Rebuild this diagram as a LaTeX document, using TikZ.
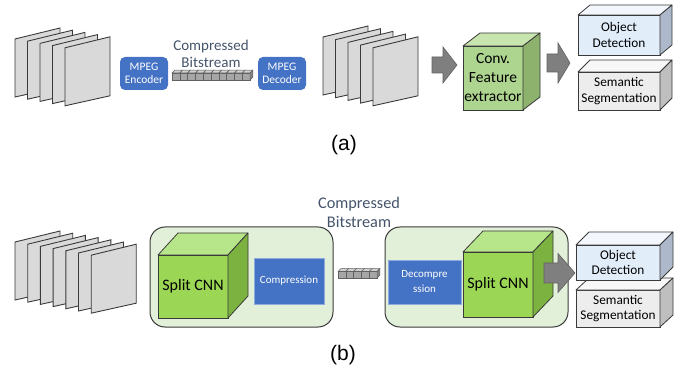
\documentclass[tikz,border=0pt]{standalone}
\usepackage{fontspec}
\setmainfont{Carlito}
\newfontfamily\arialf{Liberation Sans}
\usetikzlibrary{calc}
\definecolor{mblue}{HTML}{4472C4}
\definecolor{mblueedge}{HTML}{8FAADC}
\definecolor{dk}{HTML}{3A3A3A}
\definecolor{slate}{HTML}{44546A}
\definecolor{framefill}{HTML}{D9D9D9}
\definecolor{convfront}{HTML}{AED58F}
\definecolor{convtop}{HTML}{C8E5B0}
\definecolor{convside}{HTML}{8DB26E}
\definecolor{splitfront}{HTML}{9BD755}
\definecolor{splittop}{HTML}{B7E58A}
\definecolor{splitside}{HTML}{7CB23F}
\definecolor{odfront}{HTML}{E2EDFA}
\definecolor{odtop}{HTML}{F3F7FD}
\definecolor{odside}{HTML}{ADB9CA}
\definecolor{sgfront}{HTML}{EDEDED}
\definecolor{sgtop}{HTML}{F7F7F7}
\definecolor{sgside}{HTML}{BFBFBF}
\definecolor{panelfill}{HTML}{E2F0D9}
\definecolor{arrowfill}{HTML}{7F7F7F}
\definecolor{bitfront}{HTML}{A6A6A6}
\definecolor{bittop}{HTML}{D0D0D0}
\newcommand{\cubefaces}[5]{%
  \filldraw[draw=dk, line width=0.8pt, fill=#4, line join=round]
    (#1.north west) -- ++(#2,-#3) -- ($(#1.north east)+(#2,-#3)$) -- (#1.north east) -- cycle;
  \filldraw[draw=dk, line width=0.8pt, fill=#5, line join=round]
    (#1.north east) -- ++(#2,-#3) -- ($(#1.south east)+(#2,-#3)$) -- (#1.south east) -- cycle;}
\newcommand{\vidframe}[2]{%
  \filldraw[draw=dk, fill=framefill, line width=0.9pt]
    (#1,#2) -- ++(45,-11) -- ++(0,59) -- ++(-45,10) -- cycle;}
\newcommand{\bitbar}[4]{% x, y(front top), n cells, height
  \foreach \i in {1,...,#3}{%
    \pgfmathsetmacro{\xx}{#1+7.8*(\i-1)}
    \filldraw[draw=dk!80, fill=bittop, line width=0.5pt]
      (\xx,#2) -- ++(2.8,-2.8) -- ++(7.8,0) -- ++(-2.8,2.8) -- cycle;
    \filldraw[draw=dk!80, fill=bitfront, line width=0.5pt]
      (\xx,#2) rectangle ++(7.8,#4);
  }
  \pgfmathsetmacro{\xe}{#1+7.8*#3}
  \filldraw[draw=dk!80, fill=bitfront!80!black, line width=0.5pt]
    (\xe,#2) -- ++(2.8,-2.8) -- ++(0,#4) -- ++(-2.8,2.8) -- cycle;}
\tikzset{
  bluebox/.style={fill=mblue, rounded corners=5pt, text=white, align=center,
    inner sep=0pt, outer sep=0pt, minimum width=48pt, minimum height=33pt,
    font=\fontsize{11.5}{13.5}\selectfont},
  flatblue/.style={fill=mblue, draw=mblueedge, line width=0.8pt, text=white, align=center,
    inner sep=0pt, outer sep=0pt, font=\fontsize{11}{15}\selectfont},
  cubefront/.style={draw=dk, line width=0.8pt, inner sep=0pt, outer sep=0pt, align=center},
  boxtext/.style={font=\fontsize{13.3}{15.5}\selectfont},
  panel/.style={fill=panelfill, draw=dk, line width=1pt, rounded corners=15pt,
    minimum width=183pt, minimum height=100pt, inner sep=0pt, outer sep=0pt},
  blockarrow/.style={fill=arrowfill, draw=dk!80, line width=0.6pt, line join=miter},
  bitlabel/.style={text=slate, align=center, inner sep=0pt}
}
\begin{document}
\begin{tikzpicture}[x=1pt,y=-1pt]
\useasboundingbox (0,0) rectangle (683,374);

% ---------- (a) ----------
\foreach \k in {0,...,4}{\vidframe{15+12.5*\k}{39+2.2*\k}}
\node[bluebox] (enc) at (144,73.5) {MPEG\\Encoder};
\node[bitlabel, font=\fontsize{15}{17}\selectfont] (bsa) at (211,53.5) {Compressed\\Bitstream};
\bitbar{172}{73}{10}{7}
\node[bluebox] (dec) at (282,73.5) {MPEG\\Decoder};
\foreach \k in {0,...,4}{\vidframe{323+12.5*\k}{37+2.7*\k}}

\coordinate (a1) at (432,65);
\filldraw[blockarrow] (a1) ++(0,-8) -- ++(11,0) -- ++(0,-10) -- ++(14,18) -- ++(-14,18) -- ++(0,-10) -- ++(-11,0) -- cycle;

\node[cubefront, fill=convfront, minimum width=60pt, minimum height=64pt,
  font=\fontsize{15.5}{19}\selectfont] (conv) at (493,78) {Conv.\\Feature\\extractor};
\cubefaces{conv}{17}{13}{convtop}{convside}

\coordinate (a2) at (547,63);
\filldraw[blockarrow] (a2) ++(0,-9) -- ++(11,0) -- ++(0,-11) -- ++(12,20) -- ++(-12,20) -- ++(0,-11) -- ++(-11,0) -- cycle;

\node[cubefront, fill=sgfront, minimum width=82pt, minimum height=38pt, boxtext] (sega) at (619,91) {Semantic\\Segmentation};
\cubefaces{sega}{12}{12}{sgtop}{sgside}
\node[cubefront, fill=odfront, minimum width=82pt, minimum height=40pt, boxtext] (oda) at (619,35) {Object\\Detection};
\cubefaces{oda}{12}{10}{odtop}{odside}

\node[font=\arialf\fontsize{21}{24}\selectfont, inner sep=0pt] (capa) at (344,145) {(a)};

% ---------- (b) ----------
\foreach \k in {0,...,6}{\vidframe{15+12.7*\k}{242+2.2*\k}}

\node[panel] (pl) at (241.5,277) {};
\node[cubefront, fill=splitfront, minimum width=70pt, minimum height=63pt,
  font=\fontsize{16}{19}\selectfont] (scl) at (193,286.5) {Split CNN};
\cubefaces{scl}{20}{22}{splittop}{splitside}
\node[flatblue, minimum width=70pt, minimum height=46pt] (comp) at (289,281) {Compression};

\node[bitlabel, font=\fontsize{16.3}{19}\selectfont] (bsb) at (359,212) {Compressed\\Bitstream};
\bitbar{338}{271.5}{5}{6.5}

\node[panel] (pr) at (476.5,277) {};
\node[flatblue, minimum width=73pt, minimum height=44pt] (decomp) at (424.5,282) {Decompre\\ssion};
\node[cubefront, fill=splitfront, minimum width=70pt, minimum height=65pt,
  font=\fontsize{16}{19}\selectfont] (scr) at (498,284.5) {Split CNN};
\cubefaces{scr}{20}{21}{splittop}{splitside}

\coordinate (b1) at (544,273);
\filldraw[blockarrow] (b1) ++(0,-10) -- ++(14,0) -- ++(0,-9.5) -- ++(17,19.5) -- ++(-17,19.5) -- ++(0,-9.5) -- ++(-14,0) -- cycle;

\node[cubefront, fill=sgfront, minimum width=84pt, minimum height=37pt, boxtext] (segb) at (618,308.5) {Semantic\\Segmentation};
\cubefaces{segb}{13}{12}{sgtop}{sgside}
\node[cubefront, fill=odfront, minimum width=84pt, minimum height=35pt, boxtext] (odb) at (618,262.5) {Object\\Detection};
\cubefaces{odb}{13}{13}{odtop}{odside}

\node[font=\arialf\fontsize{21}{24}\selectfont, inner sep=0pt] (capb) at (343,355) {(b)};
\end{tikzpicture}
\end{document}
